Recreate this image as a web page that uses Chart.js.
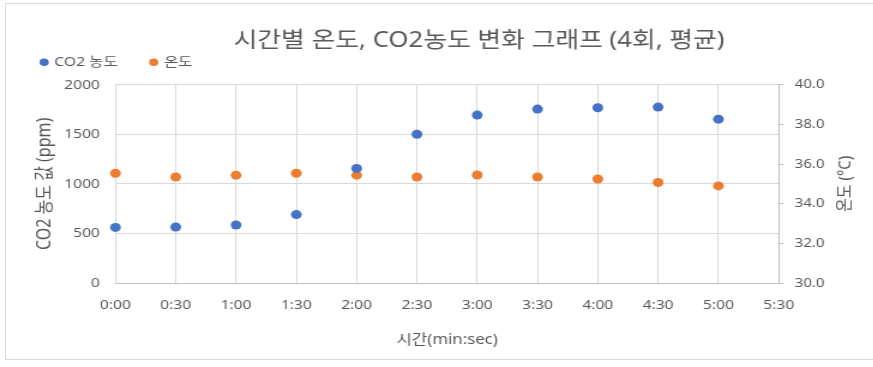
<!DOCTYPE html>
<html lang="ko">
<head>
<meta charset="utf-8">
<title>시간별 온도, CO2농도 변화 그래프</title>
<script src="https://cdn.jsdelivr.net/npm/chart.js@4.4.1/dist/chart.umd.min.js"></script>
<style>
  html, body { margin: 0; padding: 0; background: #ffffff; }
  body { width: 873px; height: 367px; overflow: hidden; position: relative; }
  #frame {
    position: absolute; left: 5px; top: 3px; width: 944px; height: 357px;
    border: 1px solid #d9d9d9; box-sizing: border-box;
  }
  #c { position: absolute; left: 0; top: 0; }
</style>
</head>
<body>
<div id="frame"></div>
<canvas id="c" width="792" height="367" style="width:950.4px;height:367px"></canvas>
<script>
// Elapsed time of each measurement, in seconds
const seconds = [0, 30, 60, 90, 120, 150, 180, 210, 240, 270, 300];
// Tick labels for the time axis (every 30 s)
const timeTicks = ['0:00', '0:30', '1:00', '1:30', '2:00', '2:30', '3:00', '3:30', '4:00', '4:30', '5:00', '5:30'];
// Average CO2 concentration (ppm), 4 runs
const co2 = [561, 565, 585, 690, 1156, 1501, 1694, 1755, 1768, 1775, 1653];
// Average temperature (°C), 4 runs
const temp = [35.54, 35.35, 35.44, 35.54, 35.44, 35.35, 35.45, 35.35, 35.25, 35.07, 34.90];

const chartTitle = '시간별 온도, CO2농도 변화 그래프 (4회, 평균)';
const co2Name = 'CO2 농도';
const tempName = '온도';
const xTitle = '시간(min:sec)';
const co2AxisTitle = 'CO2 농도 값 (ppm)';
const tempAxisTitle = '온도 (°C)';

const FONT = "'Noto Sans', 'Noto Sans CJK KR', sans-serif";
const TEXT = '#595959';
const GRID = '#d9d9d9';
const AXIS = '#bfbfbf';

// Secondary axis title, read bottom-to-top like the primary one
const tempTitlePlugin = {
  id: 'tempTitle',
  afterDraw(chart) {
    const s = chart.scales.yT;
    const ctx = chart.ctx;
    ctx.save();
    ctx.translate(s.left + 56, (s.top + s.bottom) / 2);
    ctx.rotate(-Math.PI / 2);
    ctx.font = `15px ${FONT}`;
    ctx.fillStyle = TEXT;
    ctx.textAlign = 'center';
    ctx.textBaseline = 'middle';
    ctx.fillText(tempAxisTitle, 0, 0);
    ctx.restore();
  }
};

new Chart(document.getElementById('c'), {
  type: 'scatter',
  data: {
    datasets: [
      {
        label: co2Name,
        data: seconds.map((s, i) => ({ x: s, y: co2[i] })),
        yAxisID: 'y',
        backgroundColor: '#4472C4',
        borderColor: '#4472C4',
        borderWidth: 0,
        pointRadius: 4.5,
        pointStyle: 'circle',
        clip: false
      },
      {
        label: tempName,
        data: seconds.map((s, i) => ({ x: s, y: temp[i] })),
        yAxisID: 'yT',
        backgroundColor: '#ED7D31',
        borderColor: '#ED7D31',
        borderWidth: 0,
        pointRadius: 4.5,
        pointStyle: 'circle',
        clip: false
      }
    ]
  },
  options: {
    responsive: false,
    devicePixelRatio: 1,
    animation: false,
    layout: { padding: { left: 6.8, right: 0, top: 0, bottom: 0 } },
    plugins: {
      tooltip: { enabled: false },
      title: {
        display: true,
        text: chartTitle,
        color: TEXT,
        font: { family: FONT, size: 21.5, weight: 'normal', lineHeight: 1.2 },
        padding: { top: 27.8, bottom: -25.8 }
      },
      legend: {
        display: true,
        position: 'top',
        align: 'start',
        labels: {
          usePointStyle: true,
          boxWidth: 4,
          boxHeight: 5.4,
          padding: 28,
          color: TEXT,
          font: { family: FONT, size: 13 }
        }
      },
      // empty spacer between the legend and the plot
      subtitle: {
        display: true,
        text: '',
        weight: 500,
        font: { size: 6, lineHeight: 1 },
        padding: 0
      }
    },
    scales: {
      x: {
        type: 'linear',
        position: 'bottom',
        min: 0,
        max: 330,
        afterBuildTicks(scale) {
          scale.ticks = timeTicks.map((_, i) => ({ value: i * 30 }));
        },
        afterFit(scale) { scale.height = 84; },
        ticks: {
          autoSkip: false,
          maxRotation: 0,
          padding: 14,
          color: TEXT,
          font: { family: FONT, size: 13 },
          callback: (v, i) => timeTicks[i]
        },
        grid: { color: GRID, lineWidth: 1, drawTicks: false },
        border: { display: true, color: AXIS, width: 1 },
        title: {
          display: true,
          text: xTitle,
          color: TEXT,
          font: { family: FONT, size: 14, lineHeight: 1.2 },
          padding: { top: 0, bottom: 18.6 }
        }
      },
      y: {
        type: 'linear',
        position: 'left',
        min: 0,
        max: 2000,
        afterFit(scale) { scale.width = 89.45; },
        ticks: {
          stepSize: 500,
          padding: 13,
          color: TEXT,
          font: { family: FONT, size: 13 },
          callback: v => String(v)
        },
        grid: { color: GRID, lineWidth: 1, drawTicks: false },
        border: { display: false },
        title: {
          display: true,
          text: co2AxisTitle,
          color: TEXT,
          font: { family: FONT, size: 16, lineHeight: 1.2 },
          padding: { top: 20.6, bottom: 0 }
        }
      },
      yT: {
        type: 'linear',
        position: 'right',
        min: 30,
        max: 40,
        afterFit(scale) { scale.width = 142.8; },
        ticks: {
          stepSize: 2,
          padding: 9.3,
          color: TEXT,
          font: { family: FONT, size: 12.5 },
          callback: v => v.toFixed(1)
        },
        grid: { drawOnChartArea: false, drawTicks: true, tickLength: 4, color: AXIS, tickColor: AXIS },
        border: { display: true, color: AXIS, width: 1 }
      }
    }
  },
  plugins: [tempTitlePlugin]
});
</script>
</body>
</html>
